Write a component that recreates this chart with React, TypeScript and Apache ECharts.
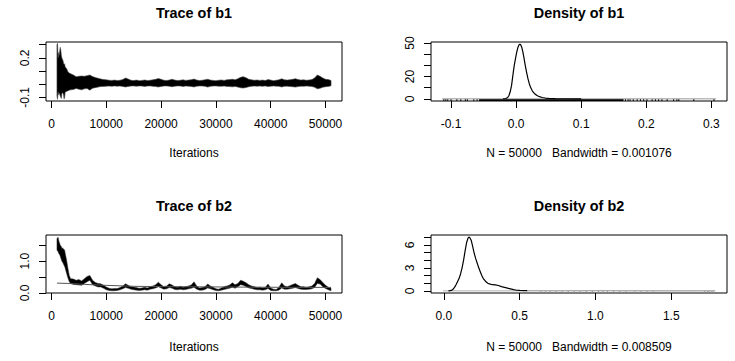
import React, { useEffect, useRef } from 'react';
import * as echarts from 'echarts';

const FONT = '"Liberation Sans", Arial, Helvetica, sans-serif';

// ---------- trace iterations ----------
const traceIter = [
  1000, 1100, 1200, 1300, 1400, 1500, 1600, 1700, 1800, 1900, 2000, 2100, 2200, 2300, 2400, 2500, 2750, 3000, 3250, 3500, 4000,
  4500, 5000, 5500, 6000, 6500, 7000, 7500, 8000, 8500, 9000, 9500, 10000,
  10500, 11000, 11500, 12000, 12500, 13000, 13500, 14000, 14500, 15000,
  15500, 16000, 16500, 17000, 17500, 18000, 18500, 19000, 19500, 20000,
  20500, 21000, 21500, 22000, 22500, 23000, 23500, 24000, 24500, 25000,
  25500, 26000, 26500, 27000, 27500, 28000, 28500, 29000, 29500, 30000,
  30500, 31000, 31500, 32000, 32500, 33000, 33500, 34000, 34500, 35000,
  35500, 36000, 36500, 37000, 37500, 38000, 38500, 39000, 39500, 40000,
  40500, 41000, 41500, 42000, 42500, 43000, 43500, 44000, 44500, 45000,
  45500, 46000, 46500, 47000, 47500, 48000, 48500, 49000, 49500, 50000,
  50500, 51000,
];

// ---------- b1 trace envelope (upper / lower) ----------
const b1Upper = [
  0.30, 0.31, 0.20, 0.24, 0.22, 0.25, 0.28, 0.26, 0.22, 0.20, 0.19, 0.18, 0.16, 0.15, 0.155, 0.13, 0.12, 0.095, 0.085, 0.08, 0.07,
  0.057, 0.06, 0.062, 0.06, 0.065, 0.07, 0.058, 0.05, 0.045, 0.04, 0.035, 0.033,
  0.03, 0.029, 0.031, 0.028, 0.03, 0.035, 0.047, 0.039, 0.03, 0.028,
  0.031, 0.027, 0.029, 0.032, 0.028, 0.03, 0.033, 0.037, 0.043, 0.037,
  0.03, 0.028, 0.032, 0.038, 0.031, 0.028, 0.03, 0.033, 0.029, 0.031,
  0.034, 0.039, 0.031, 0.028, 0.03, 0.033, 0.037, 0.031, 0.029, 0.027,
  0.03, 0.032, 0.029, 0.033, 0.035, 0.038, 0.033, 0.042, 0.052, 0.057,
  0.049, 0.037, 0.033, 0.03, 0.032, 0.029, 0.031, 0.028, 0.035, 0.031,
  0.027, 0.03, 0.033, 0.041, 0.033, 0.031, 0.034, 0.037, 0.042, 0.035,
  0.031, 0.033, 0.03, 0.032, 0.035, 0.047, 0.07, 0.06, 0.047, 0.037,
  0.035, 0.028,
];
const b1Lower = [
  -0.09, -0.115, -0.06, -0.08, -0.068, -0.075, -0.09, -0.1, -0.108, -0.07, -0.065, -0.07, -0.08, -0.112, -0.1, -0.06, -0.055, -0.05, -0.045, -0.043, -0.04,
  -0.032, -0.038, -0.043, -0.035, -0.033, -0.045, -0.03, -0.026, -0.022, -0.018, -0.017, -0.015,
  -0.014, -0.016, -0.013, -0.015, -0.014, -0.017, -0.021, -0.017, -0.014, -0.013,
  -0.015, -0.013, -0.014, -0.017, -0.014, -0.013, -0.016, -0.018, -0.021, -0.017,
  -0.014, -0.013, -0.016, -0.019, -0.015, -0.013, -0.014, -0.017, -0.014, -0.015,
  -0.017, -0.021, -0.015, -0.013, -0.014, -0.016, -0.022, -0.016, -0.014, -0.013,
  -0.015, -0.016, -0.014, -0.017, -0.018, -0.02, -0.017, -0.022, -0.027, -0.029,
  -0.025, -0.019, -0.016, -0.014, -0.015, -0.014, -0.016, -0.013, -0.018, -0.015,
  -0.013, -0.015, -0.016, -0.021, -0.016, -0.015, -0.017, -0.019, -0.022, -0.018,
  -0.015, -0.016, -0.014, -0.015, -0.017, -0.023, -0.035, -0.031, -0.023, -0.019,
  -0.017, -0.012,
];

// ---------- b2 trace envelope (upper / lower) ----------
const b2Upper = [
  1.70, 1.73, 1.75, 1.68, 1.60, 1.56, 1.50, 1.48, 1.46, 1.40, 1.42, 1.40, 1.38, 1.36, 1.35, 1.25, 1.04, 0.78, 0.55, 0.45, 0.44,
  0.40, 0.42, 0.38, 0.45, 0.52, 0.55, 0.40, 0.33, 0.30, 0.29, 0.24, 0.19,
  0.15, 0.13, 0.14, 0.14, 0.17, 0.22, 0.29, 0.24, 0.20, 0.19,
  0.17, 0.15, 0.16, 0.18, 0.16, 0.20, 0.22, 0.26, 0.34, 0.26,
  0.20, 0.22, 0.29, 0.25, 0.20, 0.18, 0.21, 0.18, 0.20, 0.22,
  0.25, 0.35, 0.22, 0.16, 0.17, 0.20, 0.28, 0.22, 0.18, 0.13,
  0.12, 0.16, 0.20, 0.22, 0.25, 0.32, 0.26, 0.30, 0.40, 0.37,
  0.32, 0.26, 0.22, 0.20, 0.17, 0.18, 0.16, 0.17, 0.28, 0.16,
  0.12, 0.11, 0.18, 0.32, 0.22, 0.20, 0.23, 0.27, 0.30, 0.24,
  0.20, 0.20, 0.18, 0.20, 0.22, 0.30, 0.48, 0.42, 0.33, 0.24,
  0.18, 0.15,
];
const b2Lower = [
  1.35, 1.32, 1.30, 1.25, 1.22, 1.20, 1.15, 1.10, 1.04, 1.00, 0.97, 0.94, 0.90, 0.86, 0.83, 0.78, 0.62, 0.47, 0.35, 0.30, 0.27,
  0.26, 0.25, 0.24, 0.30, 0.35, 0.40, 0.26, 0.22, 0.19, 0.19, 0.15, 0.10,
  0.08, 0.07, 0.07, 0.08, 0.10, 0.13, 0.17, 0.15, 0.12, 0.10,
  0.09, 0.08, 0.09, 0.10, 0.09, 0.12, 0.13, 0.16, 0.20, 0.16,
  0.12, 0.13, 0.17, 0.15, 0.11, 0.10, 0.12, 0.10, 0.11, 0.13,
  0.15, 0.18, 0.12, 0.09, 0.09, 0.11, 0.16, 0.13, 0.10, 0.075,
  0.07, 0.09, 0.11, 0.13, 0.15, 0.18, 0.15, 0.20, 0.26, 0.24,
  0.20, 0.16, 0.14, 0.12, 0.10, 0.10, 0.09, 0.10, 0.14, 0.08,
  0.07, 0.07, 0.09, 0.16, 0.12, 0.12, 0.13, 0.15, 0.17, 0.14,
  0.12, 0.11, 0.11, 0.12, 0.13, 0.17, 0.30, 0.28, 0.20, 0.14,
  0.10, 0.07,
];

// smooth line on the b2 trace
const b2SmoothIter = [1000, 3000, 6000, 10000, 15000, 20000, 30000, 40000, 51000];
const b2SmoothVal = [0.31, 0.30, 0.27, 0.24, 0.21, 0.20, 0.19, 0.18, 0.175];

// ---------- b1 density ----------
const b1DensX = [-0.02, -0.016, -0.013, -0.011, -0.009, -0.007, -0.005, -0.003, -0.001, 0.001, 0.003, 0.0045, 0.0058, 0.007, 0.0085, 0.010, 0.012, 0.014, 0.016, 0.018, 0.020, 0.022, 0.025, 0.028, 0.032, 0.036, 0.040, 0.045, 0.05, 0.06, 0.08, 0.1];
const b1DensY = [0, 0.3, 1.2, 3, 6.5, 12, 21, 29.5, 36, 42, 46.5, 48.5, 48.96, 48.4, 46.5, 43, 37, 30, 24, 18.5, 14, 10.5, 7, 4.8, 3, 1.9, 1.2, 0.7, 0.4, 0.15, 0.05, 0.02];
const b1DensRange = [-0.1139, 0.3071];
const b1RugTicks = [-0.111, -0.108, -0.105, -0.1, -0.091, -0.085, -0.078, -0.075, -0.065, -0.06, 0.168, 0.172, 0.175, 0.18, 0.186, 0.191, 0.196, 0.201, 0.209, 0.214, 0.219, 0.224, 0.232, 0.242, 0.247, 0.25, 0.273, 0.304];
const b1RugDense = [[-0.057, 0.165]];

// ---------- b2 density ----------
const b2DensX = [0.03, 0.05, 0.06, 0.07, 0.08, 0.09, 0.10, 0.11, 0.12, 0.13, 0.14, 0.15, 0.16, 0.165, 0.17, 0.18, 0.19, 0.20, 0.21, 0.22, 0.23, 0.24, 0.25, 0.26, 0.27, 0.28, 0.29, 0.30, 0.32, 0.34, 0.36, 0.38, 0.40, 0.42, 0.44, 0.46, 0.48, 0.50, 0.55];
const b2DensY = [0, 0.05, 0.2, 0.45, 0.8, 1.2, 1.6, 2.2, 3.0, 4.0, 5.2, 6.3, 6.9, 7.0, 6.95, 6.6, 5.8, 4.9, 4.2, 3.6, 3.0, 2.5, 2.0, 1.6, 1.35, 1.15, 1.0, 0.9, 0.8, 0.78, 0.7, 0.55, 0.45, 0.35, 0.25, 0.15, 0.08, 0.05, 0.03];
const b2TailX = [0.55, 0.6, 0.7, 0.8, 0.9, 1.0, 1.05, 1.1, 1.2, 1.3, 1.4, 1.5, 1.6, 1.7, 1.75, 1.79];
const b2TailY = [0.03, 0.03, 0.02, 0.03, 0.03, 0.04, 0.05, 0.04, 0.02, 0.02, 0.01, 0.005, 0.005, 0.01, 0.015, 0];
const b2DensRange = [-0.007, 1.79];
const b2RugTicks = [0.64, 0.67, 0.7, 0.74, 0.78, 0.82, 0.86, 0.9, 0.94, 0.98, 1.02, 1.05, 1.08, 1.12, 1.16, 1.2, 1.26, 1.3, 1.34, 1.38, 1.72, 1.74, 1.75, 1.77];

// ---------- axes ----------
const traceXTicks = [0, 10000, 20000, 30000, 40000, 50000];
const b1TraceYTicks = [-0.1, 0, 0.1, 0.2, 0.3];
const b1TraceYLabels = [-0.1, 0.2];
const b1DensXTicks = [-0.1, 0, 0.1, 0.2, 0.3];
const b1DensYTicks = [0, 10, 20, 30, 40, 50];
const b1DensYLabels = [0, 20, 50];
const b2TraceYTicks = [0, 0.5, 1, 1.5];
const b2TraceYLabels = [0, 1];
const b2DensXTicks = [0, 0.5, 1, 1.5];
const b2DensYTicks = [0, 1, 2, 3, 4, 5, 6, 7];
const b2DensYLabels = [0, 3, 6];

const titles = ['Trace of b1', 'Density of b1', 'Trace of b2', 'Density of b2'];
const xNames = ['Iterations', 'N = 50000\u00a0\u00a0\u00a0Bandwidth = 0.001076', 'Iterations', 'N = 50000\u00a0\u00a0\u00a0Bandwidth = 0.008509'];

const GRIDS = [
  { left: 46, top: 42, width: 296, height: 59 },
  { left: 431, top: 42, width: 296, height: 59 },
  { left: 46, top: 235, width: 296, height: 58 },
  { left: 431, top: 235, width: 296, height: 58 },
];
const X_RANGES = [[-999, 53000], [-0.1308, 0.324], [-999, 53000], [-0.085, 1.868]];
const Y_RANGES = [[-0.1276, 0.3206], [-1.96, 50.92], [0, 1.82], [-0.28, 7.28]];

const fmt1 = (v: number) => v.toFixed(1);
const fmt0 = (v: number) => String(Math.round(v));

function xAxis(i: number, ticks: number[], labels: number[], f: (v: number) => string) {
  return {
    type: 'value', gridIndex: i, position: 'bottom', min: X_RANGES[i][0], max: X_RANGES[i][1],
    axisLine: { show: false, onZero: false },
    splitLine: { show: false },
    axisTick: { show: true, inside: false, length: 7, customValues: ticks, lineStyle: { color: '#000', width: 1 } },
    axisLabel: { customValues: labels, formatter: f, margin: 17, fontSize: 12, color: '#000', fontFamily: FONT },
  };
}
function yAxis(i: number, ticks: number[], labels: number[], f: (v: number) => string) {
  return {
    type: 'value', gridIndex: i, position: 'left', min: Y_RANGES[i][0], max: Y_RANGES[i][1],
    axisLine: { show: false, onZero: false },
    splitLine: { show: false },
    axisTick: { show: true, inside: false, length: 7, customValues: ticks, lineStyle: { color: '#000', width: 1 } },
    axisLabel: { customValues: labels, formatter: f, rotate: 90, margin: 15, fontSize: 12, color: '#000', fontFamily: FONT },
  };
}

function bandSeries(i: number, iters: number[], up: number[], lo: number[], stroke: string, lw: number) {
  return {
    type: 'custom', xAxisIndex: i, yAxisIndex: i, silent: true, clip: true,
    data: [[iters[0], up[0]]],
    renderItem: (_p: any, api: any) => {
      const pts: number[][] = [];
      for (let k = 0; k < iters.length; k++) pts.push(api.coord([iters[k], up[k]]));
      for (let k = iters.length - 1; k >= 0; k--) pts.push(api.coord([iters[k], lo[k]]));
      return { type: 'polygon', shape: { points: pts }, style: { fill: '#000', stroke, lineWidth: lw } };
    },
  };
}

function lineSeries(i: number, xs: number[], ys: number[], color: string, width: number) {
  return {
    type: 'line', xAxisIndex: i, yAxisIndex: i, silent: true, showSymbol: false, symbol: 'none',
    data: xs.map((x, k) => [x, ys[k]]),
    lineStyle: { color, width },
  };
}

function rugTickSeries(i: number, ticks: number[], color: string, len: number) {
  const yMin = Y_RANGES[i][0];
  return {
    type: 'custom', xAxisIndex: i, yAxisIndex: i, silent: true,
    data: ticks.map((t) => [t, yMin]),
    renderItem: (_p: any, api: any) => {
      const p = api.coord([api.value(0), yMin]);
      return { type: 'line', shape: { x1: p[0], y1: p[1], x2: p[0], y2: p[1] - len }, style: { stroke: color, lineWidth: 1 } };
    },
  };
}
function rugDenseSeries(i: number, spans: number[][], len: number) {
  const yMin = Y_RANGES[i][0];
  return {
    type: 'custom', xAxisIndex: i, yAxisIndex: i, silent: true,
    data: spans.map((s) => [s[0], s[1]]),
    renderItem: (_p: any, api: any) => {
      const a = api.coord([api.value(0), yMin]);
      const b = api.coord([api.value(1), yMin]);
      return { type: 'rect', shape: { x: a[0], y: a[1] - len, width: b[0] - a[0], height: len }, style: { fill: '#000' } };
    },
  };
}

const CX = [194, 579, 194, 579];
const TITLE_Y = [12.5, 12.5, 205.5, 205.5];
const XNAME_Y = [152.5, 152.5, 346.5, 346.5];

export default function App() {
  const ref = useRef<HTMLDivElement>(null);
  useEffect(() => {
    if (!ref.current) return;
    const chart = echarts.init(ref.current, undefined, { renderer: 'svg' });
    const graphic: any[] = [];
    titles.forEach((t, i) => {
      graphic.push({
        type: 'text', x: CX[i], y: TITLE_Y[i], silent: true,
        style: { text: t, fontSize: 14.4, fontWeight: 'bold', fontFamily: FONT, fill: '#000', align: 'center', verticalAlign: 'middle', textAlign: 'center', textVerticalAlign: 'middle' },
      });
      graphic.push({
        type: 'text', x: CX[i], y: XNAME_Y[i], silent: true,
        style: { text: xNames[i], fontSize: 12, fontFamily: FONT, fill: '#000', align: 'center', verticalAlign: 'middle', textAlign: 'center', textVerticalAlign: 'middle' },
      });
    });
    chart.setOption({
      animation: false,
      backgroundColor: '#fff',
      grid: GRIDS.map((g) => ({ ...g, show: true, borderColor: '#000', borderWidth: 1, backgroundColor: 'transparent', containLabel: false })),
      xAxis: [
        xAxis(0, traceXTicks, traceXTicks, fmt0),
        xAxis(1, b1DensXTicks, b1DensXTicks, fmt1),
        xAxis(2, traceXTicks, traceXTicks, fmt0),
        xAxis(3, b2DensXTicks, b2DensXTicks, fmt1),
      ],
      yAxis: [
        yAxis(0, b1TraceYTicks, b1TraceYLabels, fmt1),
        yAxis(1, b1DensYTicks, b1DensYLabels, fmt0),
        yAxis(2, b2TraceYTicks, b2TraceYLabels, fmt1),
        yAxis(3, b2DensYTicks, b2DensYLabels, fmt0),
      ],
      series: [
        bandSeries(0, traceIter, b1Upper, b1Lower, '#444', 0.6),
        lineSeries(1, b1DensRange, [0, 0], '#9a9a9a', 1),
        rugDenseSeries(1, b1RugDense, 2),
        rugTickSeries(1, b1RugTicks, '#000', 2),
        lineSeries(1, b1DensX, b1DensY, '#000', 1.2),
        bandSeries(2, traceIter, b2Upper, b2Lower, '#333', 0.5),
        lineSeries(2, b2SmoothIter, b2SmoothVal, '#555', 1),
        lineSeries(3, b2DensRange, [0, 0], '#b0b0b0', 1),
        rugTickSeries(3, b2RugTicks, '#888', 2),
        lineSeries(3, b2TailX, b2TailY, '#aaa', 1),
        lineSeries(3, b2DensX, b2DensY, '#000', 1.2),
      ],
      graphic,
    });
    return () => chart.dispose();
  }, []);
  return <div ref={ref} style={{ position: 'fixed', left: 0, top: 0, width: 735, height: 361, background: '#fff' }} />;
}
